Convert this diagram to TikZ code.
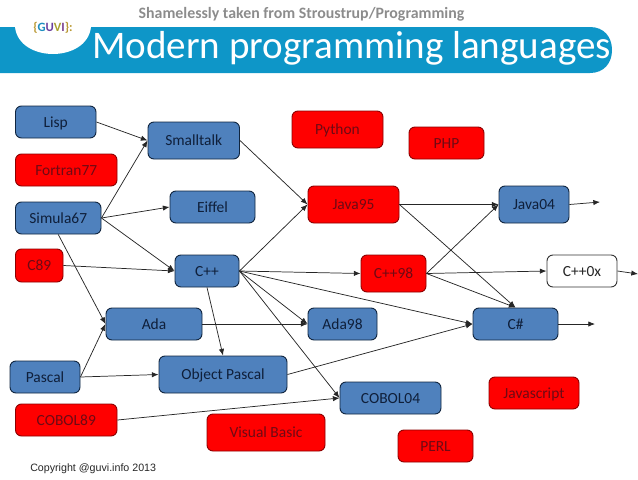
\documentclass[tikz,border=0pt]{standalone}
\usepackage{fontspec}
\setmainfont{Carlito}
\newfontfamily\arialf{Liberation Sans}
\usetikzlibrary{arrows.meta}
\definecolor{bluefill}{HTML}{4F81BD}
\definecolor{blueedge}{HTML}{10253F}
\definecolor{redtext}{HTML}{6E0A14}
\definecolor{banner}{HTML}{0E96C8}
\definecolor{bluetext}{HTML}{0F1F3A}
\tikzset{
  langbox/.style={rounded corners=4.5pt,inner sep=0pt,font=\fontsize{11.6pt}{13pt}\selectfont,line width=0.7pt,text height=8pt,text depth=0pt},
  bluebox/.style={langbox,fill=bluefill,draw=blueedge,text=bluetext},
  redbox/.style={langbox,fill=red,draw=red!55!black,text=redtext},
  whitebox/.style={langbox,fill=white,draw=black!80,text=black!85},
  link/.style={-{Latex[length=5pt,width=4pt]},line width=0.55pt,draw=black!85},
}
\newcommand{\bx}[7]{\node[#1,minimum width=#4*0.75pt,minimum height=#5*0.75pt] (#2) at ({(#4)/2+#6},{(#5)/2+#7}) {#3};}
\begin{document}
\begin{tikzpicture}[x=0.75pt,y=-0.75pt]
\useasboundingbox (0,0) rectangle (638,479);
% banner
\fill[banner] (0,27) -- (590,27) .. controls (604,27) and (612,37) .. (612,50) .. controls (612,63) and (604,73) .. (590,73) -- (0,73) -- cycle;
\fill[white] (15,27) .. controls (17,45) and (35,54) .. (53,54) .. controls (71,54) and (89,45) .. (91,27) -- cycle;
\node[anchor=center,inner sep=0pt,font=\bfseries\fontsize{9.5pt}{10pt}\selectfont] (logo) at (53,27.5) {\textcolor[HTML]{B8962E}{\{}\textcolor[HTML]{1E8FC0}{G}\textcolor[HTML]{6A3F9E}{U}\textcolor[HTML]{A8A02E}{V}\textcolor[HTML]{7A3F8E}{I}\textcolor[HTML]{B8962E}{\}:}};
\node[anchor=base,inner sep=0pt,font=\bfseries\fontsize{11.9pt}{13pt}\selectfont,text=black!45] (credit) at (301.5,18) {Shamelessly taken from Stroustrup/Programming};
\node[anchor=base,font=\fontsize{29.3pt}{32pt}\selectfont,text=white,inner sep=0pt] (title) at (351.5,58) {Modern programming languages};
\node[anchor=base west,inner sep=0pt,font=\arialf\fontsize{8pt}{10pt}\selectfont,text=black!85] (copy) at (30,471.5) {Copyright @guvi.info 2013};
% boxes: style,name,text,w,h,x,y
\bx{bluebox}{lisp}{Lisp}{80.5}{32}{15.5}{106}
\bx{bluebox}{smalltalk}{Smalltalk}{91.5}{37}{148}{122}
\bx{redbox}{fortran}{Fortran77}{101.5}{32}{15.5}{154}
\bx{bluebox}{simula}{Simula67}{85.5}{32}{15.5}{202}
\bx{bluebox}{eiffel}{Eiffel}{85}{32}{170}{191}
\bx{redbox}{cee}{C89}{47.5}{33}{15.5}{249}
\bx{bluebox}{cpp}{C++}{64}{32}{175}{255}
\bx{bluebox}{ada}{Ada}{96}{32}{106}{308}
\bx{bluebox}{pascal}{Pascal}{70}{32}{10}{361}
\bx{bluebox}{objp}{Object Pascal}{128}{37}{159}{356}
\bx{redbox}{cobolA}{COBOL89}{101.5}{32}{15.5}{404}
\bx{redbox}{vb}{Visual Basic}{118}{37}{207}{414}
\bx{redbox}{python}{Python}{91}{37}{292}{111}
\bx{redbox}{php}{PHP}{75}{32}{409}{127}
\bx{redbox}{javaA}{Java95}{91}{37}{308}{186}
\bx{bluebox}{javaB}{Java04}{70}{37}{499}{186}
\bx{redbox}{cppA}{C++98}{65}{37}{361}{255}
\bx{whitebox}{cppB}{C++0x}{70}{32}{547}{255}
\bx{bluebox}{adaB}{Ada98}{69}{32}{308}{308}
\bx{bluebox}{csharp}{C\#}{85}{32}{473}{308}
\bx{bluebox}{cobolB}{COBOL04}{101}{32}{340}{382}
\bx{redbox}{js}{Javascript}{90}{32}{489}{377}
\bx{redbox}{perl}{PERL}{75}{32}{398}{430}
% free ends
\coordinate (outJ) at (600,202);
\coordinate (outC) at (638,274);
\coordinate (outS) at (595,324);
% connectors
\draw[link] (lisp.east) -- (smalltalk.west);
\draw[link] (simula.east) -- (smalltalk.west);
\draw[link] (simula.east) -- (eiffel.west);
\draw[link] (simula.east) -- (cpp.west);
\draw[link] (simula.south) -- (ada.west);
\draw[link] (cee.east) -- (cpp.west);
\draw[link] (cpp.south) -- (objp.north);
\draw[link] (pascal.east) -- (ada.west);
\draw[link] (pascal.east) -- (objp.west);
\draw[link] (ada.east) -- (adaB.west);
\draw[link] (objp.east) -- (csharp.west);
\draw[link] (cobolA.east) -- (cobolB.west);
\draw[link] (smalltalk.east) -- (javaA.west);
\draw[link] (cpp.east) -- (javaA.west);
\draw[link] (cpp.east) -- (cppA.west);
\draw[link] (cpp.east) -- (adaB.west);
\draw[link] (cpp.east) -- (csharp.west);
\draw[link] (cpp.east) -- (cobolB.west);
\draw[link] (javaA.east) -- (javaB.west);
\draw[link] (javaA.east) -- (csharp.north);
\draw[link] (cppA.east) -- (javaB.west);
\draw[link] (cppA.east) -- (cppB.west);
\draw[link] (cppA.east) -- (csharp.north);
\draw[link] (javaB.east) -- (outJ);
\draw[link] (cppB.east) -- (outC);
\draw[link] (csharp.east) -- (outS);
\end{tikzpicture}
\end{document}
